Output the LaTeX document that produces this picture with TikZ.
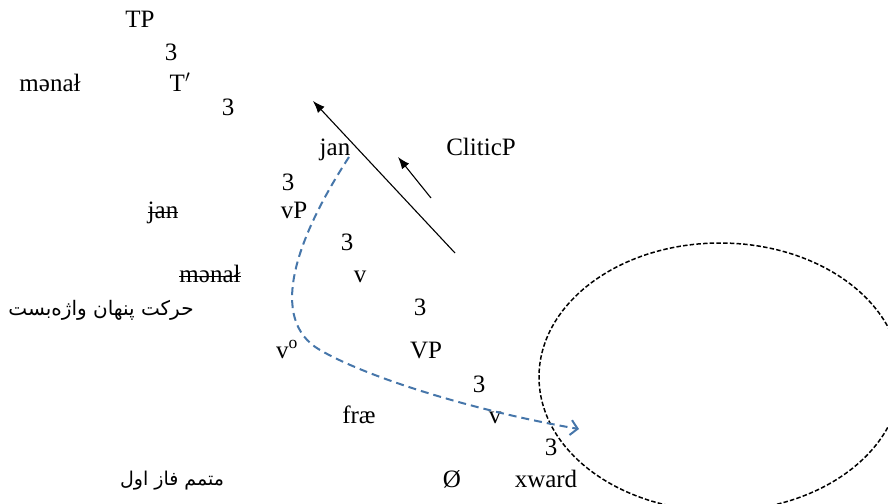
\documentclass[tikz,border=0pt]{standalone}
\usepackage{fontspec}
\setmainfont{Liberation Serif}
\newfontfamily\arabicfont[Script=Arabic]{DejaVu Sans}
\usetikzlibrary{arrows.meta,shapes.geometric}
\TeXXeTstate=1
\definecolor{movblue}{RGB}{70,118,170}
\begin{document}
\begin{tikzpicture}[x=1pt,y=-1pt,
  lbl/.style={anchor=base,inner sep=0pt,font=\fontsize{25}{29}\selectfont},
  fa/.style={anchor=center,inner sep=0pt,font=\arabicfont\fontsize{19}{23}\selectfont},
  strikeline/.style={draw=black,line width=1pt},
  movearrow/.style={draw=black,line width=1.1pt,-{Latex[length=12pt,width=9pt]}},
  covert/.style={draw=movblue,line width=2pt,dash pattern=on 8pt off 5pt,-{Straight Barb[length=7pt,width=15pt,line width=2pt]}},
  phasering/.style={ellipse,draw=black,line width=1.5pt,dash pattern=on 4.5pt off 2.2pt,inner sep=0pt}
]
\useasboundingbox (0,0) rectangle (888,503);
% tree labels
\node[lbl] (tp) at (140,28) {TP};
\node[lbl] (b1) at (171,60) {3};
\node[lbl] (menal1) at (50,92) {mənał};
\node[lbl] (tbar) at (180,92) {T$'$};
\node[lbl] (b2) at (228,115) {3};
\node[lbl] (jan1) at (335,155) {jan};
\node[lbl] (clitic) at (481,155) {CliticP};
\node[lbl] (b3) at (288,190) {3};
\node[lbl] (jan2) at (163,218) {jan};
\node[lbl] (vP) at (294,218) {vP};
\node[lbl] (b4) at (347,250) {3};
\node[lbl] (menal2) at (210,282) {mənał};
\node[lbl] (vbar) at (360,282) {v};
\node[lbl] (b5) at (420,315) {3};
\node[lbl] (vo) at (287,358) {v\textsuperscript{o}};
\node[lbl] (VP) at (426,358) {VP};
\node[lbl] (b6) at (479,392) {3};
\node[lbl] (frae) at (359,423) {fræ};
\node[lbl] (vsm) at (495,423) {v};
\node[lbl] (b7) at (551,455) {3};
\node[lbl] (null) at (452,487) {Ø};
\node[lbl] (xward) at (546,487) {xward};
% strike-through of lower copies
\draw[strikeline] ([yshift=6pt]jan2.base west) -- ([yshift=6pt]jan2.base east);
\draw[strikeline] ([yshift=6pt]menal2.base west) -- ([yshift=6pt]menal2.base east);
% Persian labels
\node[fa,font=\arabicfont\fontsize{20}{24}\selectfont] (covertlbl) at (101,310) {\beginR حرکت پنهان واژه‌بست\endR};
\node[fa] (phaselbl) at (172,481) {\beginR متمم فاز اول\endR};
% phase ellipse
\node[phasering,minimum width=362pt,minimum height=268pt] (phase) at (720,377) {};
% movement arrows
\coordinate (la1) at (455,253);
\coordinate (la2) at (313,101);
\coordinate (sa1) at (431,198);
\coordinate (sa2) at (398,157);
\draw[movearrow] (la1) -- (la2);
\draw[movearrow] (sa1) -- (sa2);
% covert movement
\coordinate (c0) at (349,157);
\coordinate (cm) at (320,350);
\coordinate (c1) at (579,429);
\draw[covert] (c0) .. controls (295,240) and (268,320) .. (cm)
  .. controls (370,379) and (480,412) .. (c1);
\end{tikzpicture}
\end{document}
